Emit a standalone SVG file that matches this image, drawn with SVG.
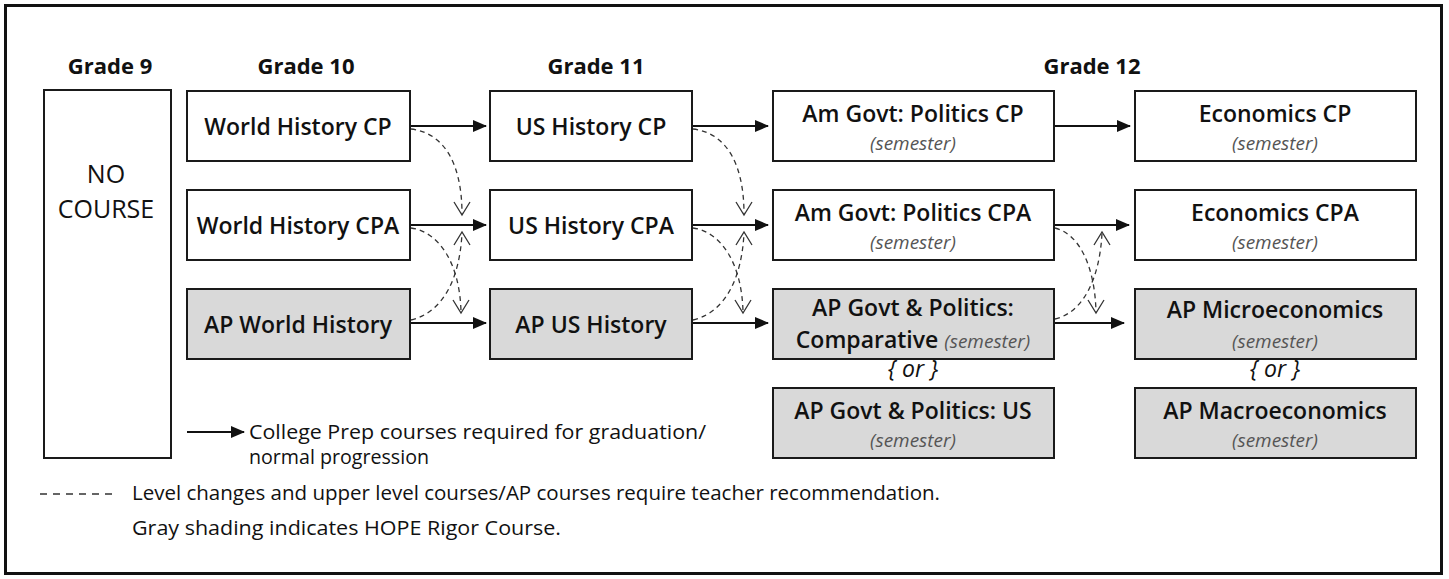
<svg xmlns="http://www.w3.org/2000/svg" width="1449" height="579" viewBox="0 0 1449 579">
<style>
.box{fill:#fff;stroke:#1a1a1a;stroke-width:2}
.ap{fill:#d9d9d9;stroke:#1a1a1a;stroke-width:2}
.hd{font-family:"Open Sans","Noto Sans",sans-serif;font-weight:700;font-size:22px;fill:#111;text-anchor:middle}
.t{font-family:"Open Sans","Noto Sans",sans-serif;font-weight:600;font-size:23px;fill:#111;text-anchor:middle}
.s{font-family:"Open Sans","Noto Sans",sans-serif;font-style:italic;font-size:19px;fill:#555;text-anchor:middle}
.or{font-family:"Open Sans","Noto Sans",sans-serif;font-style:italic;font-size:23px;fill:#111;text-anchor:middle}
.lg{font-family:"Open Sans","Noto Sans",sans-serif;font-size:20px;fill:#111}
.sol{stroke:#111;stroke-width:2;fill:none}
.dash{stroke:#333;stroke-width:1.3;fill:none;stroke-dasharray:5 4}
.open{stroke:#333;stroke-width:1.3;fill:none}
</style>
<defs>
<marker id="ah" viewBox="0 0 14 12" refX="13" refY="6" markerWidth="14" markerHeight="12" markerUnits="userSpaceOnUse" orient="auto">
<path d="M0,0 L14,6 L0,12 z" fill="#111"/>
</marker>
</defs>
<rect x="5.5" y="5.5" width="1436" height="568" fill="#fff" stroke="#111" stroke-width="3"/>

<g id="headers">
<text class="hd" x="110" y="74">Grade 9</text>
<text class="hd" x="306" y="74">Grade 10</text>
<text class="hd" x="596" y="74">Grade 11</text>
<text class="hd" x="1092" y="74">Grade 12</text>
</g>

<g id="no-course">
<rect class="box" x="44" y="90" width="127" height="368"/>
<text class="t" x="106" y="183" style="font-weight:400;font-size:25px">NO</text>
<text class="t" x="106" y="218" style="font-weight:400;font-size:25px">COURSE</text>
</g>

<g id="wh-cp"><rect class="box" x="187" y="91" width="223" height="70"/><text class="t" x="298" y="135">World History CP</text></g>
<g id="wh-cpa"><rect class="box" x="187" y="190" width="223" height="70"/><text class="t" x="298" y="234">World History CPA</text></g>
<g id="ap-wh"><rect class="ap" x="187" y="289" width="223" height="70"/><text class="t" x="298" y="333">AP World History</text></g>

<g id="us-cp"><rect class="box" x="490" y="91" width="202" height="70"/><text class="t" x="591" y="135">US History CP</text></g>
<g id="us-cpa"><rect class="box" x="490" y="190" width="202" height="70"/><text class="t" x="591" y="234">US History CPA</text></g>
<g id="ap-us"><rect class="ap" x="490" y="289" width="202" height="70"/><text class="t" x="591" y="333">AP US History</text></g>

<g id="gov-cp"><rect class="box" x="773" y="91" width="281" height="70"/><text class="t" x="913" y="122">Am Govt: Politics CP</text><text class="s" x="913" y="150">(semester)</text></g>
<g id="gov-cpa"><rect class="box" x="773" y="190" width="281" height="70"/><text class="t" x="913" y="221">Am Govt: Politics CPA</text><text class="s" x="913" y="249">(semester)</text></g>
<g id="ap-gov-comp"><rect class="ap" x="773" y="289" width="281" height="70"/><text class="t" x="913" y="316">AP Govt &amp; Politics:</text><text class="t" x="913" y="348"><tspan>Comparative </tspan><tspan style="font-weight:400;font-style:italic;font-size:19px;fill:#555">(semester)</tspan></text></g>
<g id="ap-gov-us"><rect class="ap" x="773" y="388" width="281" height="70"/><text class="t" x="913" y="419">AP Govt &amp; Politics: US</text><text class="s" x="913" y="447">(semester)</text></g>

<g id="econ-cp"><rect class="box" x="1135" y="91" width="281" height="70"/><text class="t" x="1275" y="122">Economics CP</text><text class="s" x="1275" y="150">(semester)</text></g>
<g id="econ-cpa"><rect class="box" x="1135" y="190" width="281" height="70"/><text class="t" x="1275" y="221">Economics CPA</text><text class="s" x="1275" y="249">(semester)</text></g>
<g id="ap-micro"><rect class="ap" x="1135" y="289" width="281" height="70"/><text class="t" x="1275" y="318">AP Microeconomics</text><text class="s" x="1275" y="348">(semester)</text></g>
<g id="ap-macro"><rect class="ap" x="1135" y="388" width="281" height="70"/><text class="t" x="1275" y="419">AP Macroeconomics</text><text class="s" x="1275" y="447">(semester)</text></g>

<g id="or-labels">
<text class="or" x="913" y="377">{ or }</text>
<text class="or" x="1275" y="377">{ or }</text>
</g>

<g id="connectors">
<line class="sol" x1="411" y1="126" x2="486" y2="126" marker-end="url(#ah)"/>
<line class="sol" x1="411" y1="225" x2="486" y2="225" marker-end="url(#ah)"/>
<line class="sol" x1="411" y1="323" x2="486" y2="323" marker-end="url(#ah)"/>
<line class="sol" x1="693" y1="126" x2="768" y2="126" marker-end="url(#ah)"/>
<line class="sol" x1="693" y1="225" x2="768" y2="225" marker-end="url(#ah)"/>
<line class="sol" x1="693" y1="323" x2="768" y2="323" marker-end="url(#ah)"/>
<line class="sol" x1="1055" y1="126" x2="1130" y2="126" marker-end="url(#ah)"/>
<line class="sol" x1="1055" y1="225" x2="1129" y2="225" marker-end="url(#ah)"/>
<line class="sol" x1="1055" y1="323" x2="1124" y2="323" marker-end="url(#ah)"/>

<path class="dash" d="M411,129 C445,133 462,165 462,214"/>
<path class="open" d="M454,202 L462,215 L470,202"/>
<path class="dash" d="M411,228 C440,232 460,265 461,312"/>
<path class="open" d="M453,300 L461,313 L469,300"/>
<path class="dash" d="M411,320 C445,312 460,275 462,233"/>
<path class="open" d="M454,245 L462,232 L470,245"/>

<path class="dash" d="M693,129 C727,133 744,165 744,214"/>
<path class="open" d="M736,202 L744,215 L752,202"/>
<path class="dash" d="M693,228 C722,232 742,265 743,312"/>
<path class="open" d="M735,300 L743,313 L751,300"/>
<path class="dash" d="M693,320 C727,312 742,275 744,233"/>
<path class="open" d="M736,245 L744,232 L752,245"/>

<path class="dash" d="M1055,228 C1080,234 1095,268 1096,312"/>
<path class="open" d="M1088,300 L1096,313 L1104,300"/>
<path class="dash" d="M1055,319 C1085,312 1100,275 1102,233"/>
<path class="open" d="M1094,245 L1102,232 L1110,245"/>
</g>

<g id="legend">
<line class="sol" x1="187" y1="432" x2="244" y2="432" marker-end="url(#ah)"/>
<text class="lg" x="249" y="439" textLength="457" lengthAdjust="spacingAndGlyphs">College Prep courses required for graduation/</text>
<text class="lg" x="249" y="464" textLength="180" lengthAdjust="spacingAndGlyphs">normal progression</text>
<line class="dash" x1="40" y1="494" x2="116" y2="494" style="stroke-dasharray:7 6"/>
<text class="lg" x="132" y="500" textLength="808" lengthAdjust="spacingAndGlyphs">Level changes and upper level courses/AP courses require teacher recommendation.</text>
<text class="lg" x="132" y="535" textLength="429" lengthAdjust="spacingAndGlyphs">Gray shading indicates HOPE Rigor Course.</text>
</g>
</svg>
